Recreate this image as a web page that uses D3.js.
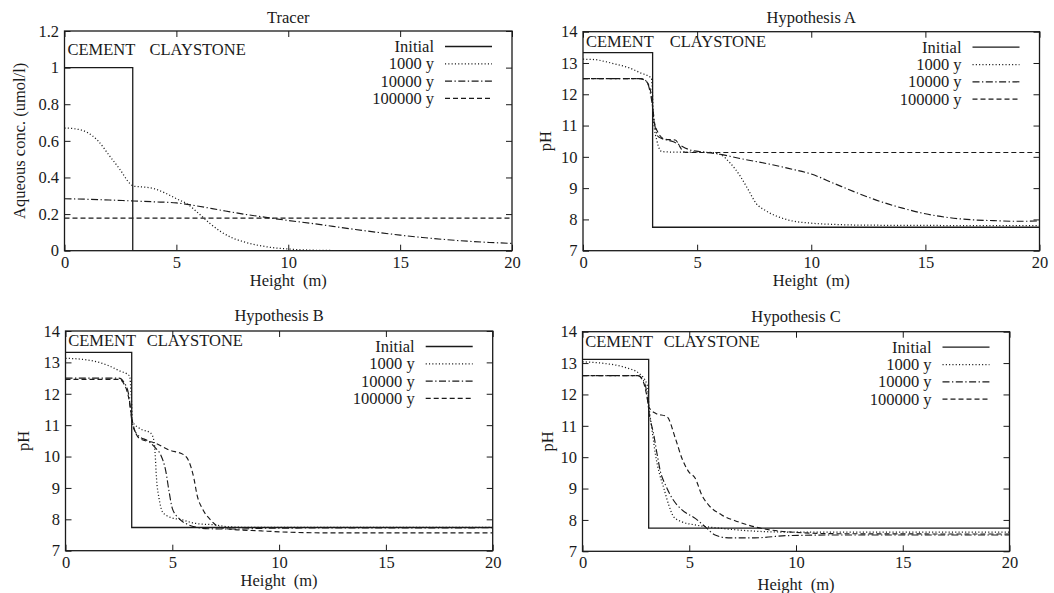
<!DOCTYPE html>
<html><head><meta charset="utf-8">
<script src="https://cdnjs.cloudflare.com/ajax/libs/d3/7.8.5/d3.min.js"></script>
<style>
body{margin:0;background:#fff}
svg text{font-family:"Liberation Serif","Times New Roman",serif;fill:#1a1a1a}
</style></head><body>
<svg id="c" width="1054" height="593"></svg>
<script>
// ---------- data ----------
const seriesNames = ["Initial", "1000 y", "10000 y", "100000 y"];
const panelTitles = ["Tracer", "Hypothesis A", "Hypothesis B", "Hypothesis C"];
const yLabels = ["Aqueous conc. (umol/l)", "pH", "pH", "pH"];
const xLabel = "Height  (m)";
const xTicks = [0, 5, 10, 15, 20];
const tracerYTicks = [0, 0.2, 0.4, 0.6, 0.8, 1, 1.2];
const phYTicks = [7, 8, 9, 10, 11, 12, 13, 14];
const zoneLabels = ["CEMENT", "CLAYSTONE"];
const zoneLabelX = [0.13, 3.8];
const zoneLabelY = [1.1, 13.7, 13.7, 13.7];

// Tracer
const tracerInitial = [[0,1],[3.05,1],[3.05,0],[20,0]];
const tracer1000 = [[0,0.67],[0.5,0.665],[1,0.647],[1.5,0.6],[2,0.52],[2.5,0.44],[2.9,0.37],[3.1,0.352],[3.5,0.348],[4,0.339],[4.5,0.315],[5,0.284],[5.5,0.254],[6,0.203],[6.5,0.149],[7,0.103],[7.5,0.07],[8,0.049],[9,0.022],[10,0.009],[11,0.003],[12,0.001],[14,0],[20,0]];
const tracer10000 = [[0,0.284],[1,0.281],[2,0.277],[3,0.272],[4,0.267],[5,0.261],[6,0.243],[7,0.221],[8,0.2],[9,0.182],[10,0.165],[11,0.15],[12,0.133],[13,0.116],[14,0.1],[15,0.085],[16,0.072],[17,0.061],[18,0.052],[19,0.045],[20,0.04]];
const tracer100000 = [[0,0.178],[20,0.178]];

// Hypothesis A
const hypAInitial = [[0,13.33],[3.05,13.33],[3.05,7.75],[20,7.75]];
const hypA1000 = [[0,13.12],[0.5,13.11],[1,13.04],[1.5,12.95],[2,12.85],[2.5,12.69],[3.0,12.51],[3.1,11.1],[3.23,10.54],[3.45,10.17],[4,10.15],[5,10.15],[5.6,10.14],[6,10.08],[6.45,9.8],[6.9,9.37],[7.2,9.0],[7.6,8.5],[8,8.28],[8.5,8.1],[9,7.98],[10,7.88],[11,7.84],[12,7.82],[14,7.81],[20,7.8]];
const hypA10000 = [[0,12.5],[2.5,12.5],[2.72,12.45],[2.9,12.2],[3.05,11.6],[3.16,10.96],[3.3,10.64],[3.96,10.48],[4.69,10.22],[5.3,10.15],[6,10.08],[7,9.93],[8.35,9.74],[9,9.63],[10,9.45],[11,9.15],[12,8.85],[13,8.58],[14,8.36],[15,8.18],[16,8.06],[17,7.99],[18,7.96],[19,7.94],[20,7.95]];
const hypA100000 = [[0,12.5],[2.5,12.5],[2.79,12.4],[3.01,11.92],[3.08,11.28],[3.23,10.86],[3.6,10.56],[4.04,10.54],[4.25,10.32],[4.4,10.16],[4.6,10.14],[20,10.14]];

// Hypothesis B
const hypBInitial = [[0,13.32],[3.1,13.32],[3.1,7.74],[20,7.74]];
const hypB1000 = [[0,13.13],[1,13.08],[2,12.9],[2.5,12.74],[3.0,12.57],[3.08,11.9],[3.14,11.11],[3.46,10.9],[4.0,10.74],[4.15,10.47],[4.2,10.05],[4.26,9.31],[4.38,8.67],[4.54,8.24],[4.85,8.08],[5.47,7.98],[6.09,7.87],[7.02,7.82],[7.64,7.76],[9,7.74],[20,7.74]];
const hypB10000 = [[0,12.5],[2.5,12.5],[2.75,12.35],[2.95,12.0],[3.14,11.0],[3.38,10.69],[3.92,10.47],[4.23,10.26],[4.46,10.05],[4.7,9.52],[4.85,8.88],[5.0,8.35],[5.31,8.03],[5.78,7.82],[6.09,7.75],[6.71,7.7],[8,7.69],[9,7.71],[10,7.72],[20,7.73]];
const hypB100000 = [[0,12.46],[2.5,12.46],[2.75,12.3],[2.95,11.9],[3.14,11.1],[3.46,10.58],[4.23,10.42],[4.85,10.21],[5.55,10.05],[5.78,9.84],[6.01,9.31],[6.16,8.77],[6.4,8.35],[6.79,7.98],[7.17,7.76],[7.64,7.69],[9.18,7.63],[10.42,7.59],[12,7.57],[20,7.57]];

// Hypothesis C
const hypCInitial = [[0,13.12],[3.1,13.12],[3.1,7.74],[20,7.74]];
const hypC1000 = [[0,13.04],[1,12.99],[2,12.86],[2.65,12.67],[3.03,12.3],[3.11,11.66],[3.27,10.81],[3.42,10.07],[3.58,9.54],[3.81,9.01],[4.04,8.48],[4.27,8.1],[4.66,7.94],[5.28,7.84],[6.52,7.73],[8.84,7.62],[10,7.61],[20,7.61]];
const hypC10000 = [[0,12.6],[2.6,12.6],[2.85,12.45],[3.0,12.1],[3.11,11.45],[3.34,10.71],[3.5,10.07],[3.65,9.54],[3.89,9.11],[4.2,8.69],[4.66,8.32],[5.28,8.05],[5.75,7.78],[6.21,7.52],[6.83,7.43],[8.06,7.43],[9.61,7.5],[12,7.52],[20,7.52]];
const hypC100000 = [[0,12.6],[2.6,12.6],[2.85,12.4],[3.0,12.0],[3.11,11.6],[3.42,11.4],[3.96,11.29],[4.35,10.6],[4.66,9.96],[4.97,9.54],[5.28,9.33],[5.59,8.79],[5.9,8.48],[6.52,8.16],[7.29,7.94],[8.06,7.78],[9.61,7.62],[12,7.56],[20,7.55]];

// ---------- layout / style ----------
const panels = [
  {series:[tracerInitial,tracer1000,tracer10000,tracer100000], yDomain:[0,1.2], yTicks:tracerYTicks,
   l:64.5, r:512, t:31, b:250.7, ylabX:19.5, xlabY:285.8, titleY:22.5},
  {series:[hypAInitial,hypA1000,hypA10000,hypA100000], yDomain:[7,14], yTicks:phYTicks,
   l:583, r:1039.5, t:31.7, b:250.7, ylabX:545.5, xlabY:285.8, titleY:23},
  {series:[hypBInitial,hypB1000,hypB10000,hypB100000], yDomain:[7,14], yTicks:phYTicks,
   l:65.5, r:492.7, t:331, b:550.7, ylabX:23.5, xlabY:585.8, titleY:321},
  {series:[hypCInitial,hypC1000,hypC10000,hypC100000], yDomain:[7,14], yTicks:phYTicks,
   l:582.5, r:1009.5, t:331.7, b:551.3, ylabX:547, xlabY:590, titleY:322}
];
const dashes = [null, "1.1,2.2", "7,2.5,1.3,2.5", "5,3"];
const widths = [1.3, 1.25, 1.15, 1.15];
const ink = "#1a1a1a";
const fs = 16.5;

const svg = d3.select("#c");
svg.append("rect").attr("width",1054).attr("height",593).attr("fill","#fff");

panels.forEach((p, pi) => {
  const g = svg.append("g");
  const x = d3.scaleLinear().domain([0,20]).range([p.l,p.r]);
  const y = d3.scaleLinear().domain(p.yDomain).range([p.b,p.t]);
  const clipId = "clip" + pi;
  g.append("clipPath").attr("id",clipId).append("rect")
    .attr("x",p.l).attr("y",p.t).attr("width",p.r-p.l).attr("height",p.b-p.t);

  const fmt = v => String(v);
  const styleAxis = sel => {
    sel.select(".domain").remove();
    sel.selectAll("line").attr("stroke",ink).attr("stroke-width",1);
    sel.selectAll("text").attr("font-size",fs).attr("font-family","Liberation Serif, serif").attr("fill",ink);
  };
  g.append("g").attr("transform",`translate(0,${p.b})`)
    .call(d3.axisBottom(x).tickValues(xTicks).tickFormat(fmt).tickSize(-6).tickSizeOuter(0).tickPadding(5.3)).call(styleAxis);
  g.append("g").attr("transform",`translate(0,${p.t})`)
    .call(d3.axisTop(x).tickValues(xTicks).tickFormat("").tickSize(-6).tickSizeOuter(0)).call(styleAxis);
  g.append("g").attr("transform",`translate(${p.l},0)`)
    .call(d3.axisLeft(y).tickValues(p.yTicks).tickFormat(fmt).tickSize(-6).tickSizeOuter(0).tickPadding(5.5)).call(styleAxis);
  g.append("g").attr("transform",`translate(${p.r},0)`)
    .call(d3.axisRight(y).tickValues(p.yTicks).tickFormat("").tickSize(-6).tickSizeOuter(0)).call(styleAxis);

  // series
  const plot = g.append("g").attr("clip-path",`url(#${clipId})`);
  p.series.forEach((data, si) => {
    const line = d3.line().x(d => x(d[0])).y(d => y(d[1]))
      .curve(si === 0 ? d3.curveLinear : d3.curveMonotoneX);
    plot.append("path").datum(data).attr("d",line)
      .attr("fill","none").attr("stroke",ink).attr("stroke-width",widths[si])
      .attr("stroke-dasharray",dashes[si]);
  });

  // border
  g.append("rect").attr("x",p.l).attr("y",p.t).attr("width",p.r-p.l).attr("height",p.b-p.t)
    .attr("fill","none").attr("stroke",ink).attr("stroke-width",1.3);

  // zone labels
  zoneLabels.forEach((t, i) => {
    g.append("text").attr("x",x(zoneLabelX[i])).attr("y",y(zoneLabelY[pi])).attr("dy","0.36em")
      .attr("font-size",fs).text(t);
  });

  // legend
  seriesNames.forEach((name, si) => {
    const cy = p.t + 15.5 + 17.3*si;
    g.append("text").attr("x",p.r-78).attr("y",cy).attr("dy","0.34em")
      .attr("text-anchor","end").attr("font-size",fs).text(name);
    g.append("line").attr("x1",p.r-67).attr("x2",p.r-20).attr("y1",cy).attr("y2",cy)
      .attr("stroke",ink).attr("stroke-width",widths[si]).attr("stroke-dasharray",dashes[si]);
  });

  // titles and axis labels
  g.append("text").attr("x",(p.l+p.r)/2).attr("y",p.titleY).attr("text-anchor","middle")
    .attr("font-size",fs).text(panelTitles[pi]);
  g.append("text").attr("x",(p.l+p.r)/2).attr("y",p.xlabY).attr("text-anchor","middle")
    .attr("font-size",fs).attr("xml:space","preserve").style("white-space","pre").text(xLabel);
  g.append("text").attr("transform",`translate(${p.ylabX},${(p.t+p.b)/2}) rotate(-90)`)
    .attr("text-anchor","middle").attr("dy","0.35em").attr("font-size",fs).text(yLabels[pi]);
});
</script>
</body></html>
